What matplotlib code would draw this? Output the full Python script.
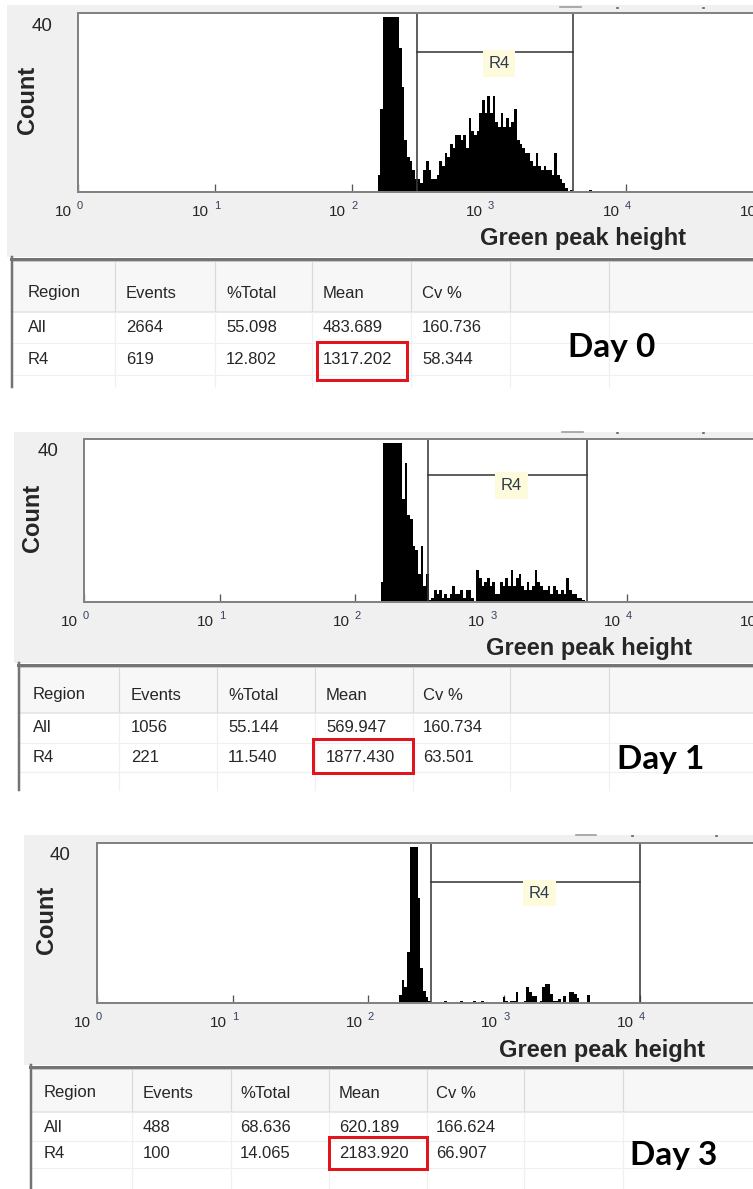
import numpy as np
import matplotlib
matplotlib.use('Agg')
import matplotlib.pyplot as plt
from matplotlib import font_manager as fm
from matplotlib.patches import Rectangle
from matplotlib.ticker import NullLocator


def pick_font(names):
    for n in names:
        try:
            fm.findfont(fm.FontProperties(family=n), fallback_to_default=False)
            return n
        except Exception:
            pass
    return 'DejaVu Sans'


UI = pick_font(['Liberation Sans', 'Arial', 'DejaVu Sans'])
DAYF = pick_font(['Lato', 'Open Sans', UI])

# ---------------- data ----------------
days = ['Day 0', 'Day 1', 'Day 3']
columns = ['Region', 'Events', '%Total', 'Mean', 'Cv %']
row_names = ['All', 'R4']
all_events = [2664, 1056, 488]
all_pct_total = [55.098, 55.144, 68.636]
all_mean = [483.689, 569.947, 620.189]
all_cv = [160.736, 160.734, 166.624]
r4_events = [619, 221, 100]
r4_pct_total = [12.802, 11.540, 14.065]
r4_mean = [1317.202, 1877.430, 2183.920]
r4_cv = [58.344, 63.501, 66.907]

channels_per_decade = 256 / 5
day0_first_channel = 112
day0_counts = [4, 19, 40, 40, 40, 40, 40, 40, 33, 24,
               12, 8, 7, 5, 3, 3, 2, 5, 7, 5,
               3, 3, 4, 7, 6, 9, 8, 11, 10, 13,
               13, 12, 13, 10, 17, 14, 13, 14, 18, 21,
               18, 22, 18, 22, 16, 15, 18, 15, 17, 15,
               16, 19, 12, 11, 10, 9, 9, 7, 6, 9,
               6, 5, 6, 5, 5, 4, 9, 4, 3, 2,
               1, 0, 0.5, 0, 0, 0, 0, 0, 0, 0.5]
day1_first_channel = 112
day1_counts = [5, 40, 40, 40, 40, 40, 40, 40, 26, 35,
               22, 21, 14, 13, 7, 14, 4, 7, 0.5, 1,
               3, 2, 3, 1, 2, 1, 2, 4, 2, 2,
               3, 1, 3, 3, 1, 0, 8, 6, 4, 5,
               6, 4, 5, 2, 2, 5, 4, 6, 4, 8,
               4, 6, 7, 4, 3, 5, 3, 4, 8, 5,
               4, 3, 3, 4, 2, 4, 3, 2, 3, 2,
               6, 3, 2, 2, 1, 1, 0.5]
day3_first_channel = 114
day3_counts = [2, 6, 4, 13, 40, 40, 40, 27, 9, 3,
               1.5, 0.6, 0, 0, 0, 0, 0, 0.6, 0, 0,
               0, 0, 0, 0.6, 0, 0, 0, 0, 0.6, 0,
               0, 0.6, 0, 0, 0, 0, 0, 0, 0, 1.6,
               0.6, 0, 0.6, 0.6, 2.7, 0, 0, 0.6, 4, 2.7,
               1.8, 1.8, 0, 0.6, 4, 4.8, 4.8, 2.3, 0.6, 0.6,
               1, 0, 1.8, 0, 2.7, 2.7, 2.3, 1.2, 0, 0,
               0, 2]
r4_gate_low = [298, 340, 288]
r4_gate_high = [4100, 5115, 10000]
r4_bar_level = [32, 32, 31]
count_axis_max = 41
count_label = 40
x_decades = [0, 1, 2, 3, 4, 5]

hist_data = [(day0_first_channel, day0_counts),
             (day1_first_channel, day1_counts),
             (day3_first_channel, day3_counts)]

# ---------------- layout (pixels) ----------------
W, H = 753, 1189
layouts = [
    dict(bg_left=7, bg_top=5, plot_left=78, plot_top=13, plot_bottom=192, decade=137.0,
         tbl_top=257, tbl_left=11, tbl_bottom=387, hdr_bottom=312, hdr_y=293, row_y=[328, 360],
         row_lines=[343, 375], col_lines=[115, 215, 312, 411, 510, 609], col_x=[28, 126, 226, 323, 422],
         red=(317, 342, 407, 380), day_xy=(612, 348), marks_y=7, dash=(560, 581), dots=(617, 703)),
    dict(bg_left=14, bg_top=432, plot_left=84, plot_top=439, plot_bottom=602, decade=135.7,
         tbl_top=663, tbl_left=18, tbl_bottom=790, hdr_bottom=713, hdr_y=695, row_y=[728, 757],
         row_lines=[743, 772], col_lines=[119, 217, 315, 413, 510, 609], col_x=[33, 131, 228, 326, 423],
         red=(313, 739, 413, 773), day_xy=(661, 760), marks_y=432, dash=(562, 583), dots=(617, 703)),
    dict(bg_left=24, bg_top=835, plot_left=97, plot_top=843, plot_bottom=1003, decade=135.7,
         tbl_top=1065, tbl_left=30, tbl_bottom=1195, hdr_bottom=1112, hdr_y=1093, row_y=[1127, 1154],
         row_lines=[1141, 1168], col_lines=[132, 231, 329, 427, 524, 623], col_x=[44, 143, 240, 339, 436],
         red=(329, 1137, 427, 1169), day_xy=(674, 1156), marks_y=835, dash=(576, 596), dots=(632, 716)),
]

PX = 0.72  # points per pixel at dpi 100
TXT = '#262626'

fig = plt.figure(figsize=(W / 100, H / 100), dpi=100)
fig.patch.set_facecolor('white')
ov = fig.add_axes([0, 0, 1, 1], zorder=0)
ov.set_xlim(0, W)
ov.set_ylim(H, 0)
ov.axis('off')

x_span = 5.6

for i, L in enumerate(layouts):
    # grey panel background
    ov.add_patch(Rectangle((L['bg_left'], L['bg_top']), W - L['bg_left'] + 5,
                           L['tbl_top'] - L['bg_top'], fc='#f0f0f0', ec='none', zorder=0))
    my = L['marks_y']
    ov.plot(L['dash'], [my, my], color='#9a9a9a', lw=1.6 * PX, zorder=1)
    for d in L['dots']:
        ov.plot([d, d + 1.5], [my + 1, my + 1], color='#555555', lw=1.6 * PX, zorder=1)

    # ---------- table ----------
    tl, tt, tb, hb = L['tbl_left'], L['tbl_top'], L['tbl_bottom'], L['hdr_bottom']
    ov.add_patch(Rectangle((tl, tt), W - tl + 5, tb - tt, fc='white', ec='none', zorder=1))
    ov.add_patch(Rectangle((tl, tt + 4), W - tl + 5, hb - tt - 4, fc='#f7f7f7', ec='none', zorder=1))
    ov.plot([tl, W + 5], [tt + 1.5, tt + 1.5], color='#747474', lw=3 * PX, zorder=3)
    ov.plot([tl, W + 5], [tt + 3.5, tt + 3.5], color='#c8c8c8', lw=1 * PX, zorder=3)
    ov.plot([tl + 1.5, tl + 1.5], [tt, tb], color='#747474', lw=2.5 * PX, zorder=3)
    ov.plot([tl, W + 5], [hb, hb], color='#e3e3e3', lw=1.5 * PX, zorder=2)
    for y in L['row_lines']:
        ov.plot([tl, W + 5], [y, y], color='#f0f0f0', lw=1.2 * PX, zorder=2)
    for x in L['col_lines']:
        ov.plot([x, x], [tt + 5, hb], color='#dadada', lw=1.2 * PX, zorder=2)
        ov.plot([x, x], [hb, tb], color='#f0f0f0', lw=1.2 * PX, zorder=2)

    for c, name in enumerate(columns):
        ov.text(L['col_x'][c], L['hdr_y'], name, ha='left', va='center', fontsize=12,
                family=UI, color=TXT, zorder=4)
    rows = [[row_names[0], f'{all_events[i]}', f'{all_pct_total[i]:.3f}', f'{all_mean[i]:.3f}',
             f'{all_cv[i]:.3f}'],
            [row_names[1], f'{r4_events[i]}', f'{r4_pct_total[i]:.3f}', f'{r4_mean[i]:.3f}',
             f'{r4_cv[i]:.3f}']]
    for r, row in enumerate(rows):
        for c, val in enumerate(row):
            ov.text(L['col_x'][c], L['row_y'][r], val, ha='left', va='center', fontsize=12,
                    family=UI, color=TXT, zorder=4)
    x0, y0, x1, y1 = L['red']
    ov.add_patch(Rectangle((x0, y0), x1 - x0, y1 - y0, fill=False, ec='#e3141c',
                           lw=3 * PX, zorder=5))
    ov.text(L['day_xy'][0], L['day_xy'][1], days[i], ha='center', va='center', fontsize=24,
            fontweight='bold', family=DAYF, color='black', zorder=5)

    # ---------- histogram ----------
    left = L['plot_left']
    right = left + x_span * L['decade']
    axw = right - left
    axh = L['plot_bottom'] - L['plot_top']
    ax = fig.add_axes([left / W, 1 - L['plot_bottom'] / H, axw / W, axh / H], zorder=2)
    ax.set_facecolor('white')
    ax.set_xscale('log')
    ax.set_xlim(1, 10 ** x_span)
    ax.set_ylim(0, count_axis_max)

    first, counts = hist_data[i]
    edges = 10 ** (np.arange(first, first + len(counts) + 1) / channels_per_decade)
    ax.stairs(counts, edges, fill=True, color='black', zorder=2)

    lo, hi, lvl = r4_gate_low[i], r4_gate_high[i], r4_bar_level[i]
    gate_col = '#3a3a3a'
    ax.axvline(lo, color=gate_col, lw=1.6 * PX, zorder=3)
    ax.axvline(hi, color=gate_col, lw=1.6 * PX, zorder=3)
    ax.plot([lo, hi], [lvl, lvl], color=gate_col, lw=1.6 * PX, zorder=3)
    ax.annotate('R4', xy=(np.sqrt(lo * hi), lvl), xytext=(4, -11), textcoords='offset pixels',
                ha='center', va='center', fontsize=12, family=UI, color='#2c3a50',
                bbox=dict(boxstyle='square,pad=0.35', fc='#fdfbdb', ec='none'), zorder=4)

    for s in ['left', 'top', 'bottom']:
        ax.spines[s].set_color('#828282')
        ax.spines[s].set_linewidth(2 * PX)
        ax.spines[s].set_zorder(5)
    ax.spines['right'].set_visible(False)

    ax.set_xticks([10.0 ** k for k in x_decades])
    ax.xaxis.set_minor_locator(NullLocator())
    ax.tick_params(axis='x', direction='in', length=6, width=1.3 * PX, color='#555555',
                   labelbottom=False)
    ax.set_yticks([])

    for k in x_decades:
        ax.annotate('10', xy=(10.0 ** k, 0), xycoords=('data', 'axes fraction'),
                    xytext=(-6, -20), textcoords='offset pixels', ha='right', va='center',
                    fontsize=11, family=UI, color=TXT, annotation_clip=False)
        ax.annotate(str(k), xy=(10.0 ** k, 0), xycoords=('data', 'axes fraction'),
                    xytext=(-1, -14), textcoords='offset pixels', ha='left', va='center',
                    fontsize=8, family=UI, color='#34405a', annotation_clip=False)

    ax.annotate(str(count_label), xy=(0, count_label), xycoords=('axes fraction', 'data'),
                xytext=(-26, -9), textcoords='offset pixels', ha='right', va='center',
                fontsize=13.5, family=UI, color=TXT, annotation_clip=False)

    ax.set_ylabel('Count', fontsize=17, fontweight='bold', family=UI, color=TXT)
    ax.yaxis.set_label_coords(-51 / axw, 0.5 + 3 / axh)
    ax.yaxis.label.set_va('center')
    ax.set_xlabel('Green peak height', fontsize=17, fontweight='bold', family=UI, color=TXT)
    ax.xaxis.set_label_coords(505 / axw, -47 / axh)
    ax.xaxis.label.set_va('center')

fig.savefig('out.png', dpi=100)
